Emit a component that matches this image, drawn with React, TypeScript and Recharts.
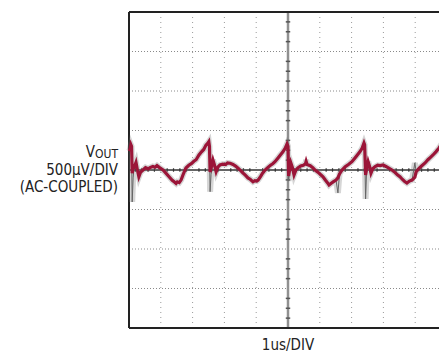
import React from "react";
import { LineChart, Line, XAxis, YAxis, ReferenceLine } from "recharts";

// time in microseconds (1us/DIV), voltage in microvolts (500uV/DIV)
const timeUs = [
  0.0, 0.03, 0.06, 0.08, 0.1, 0.13, 0.16, 0.22, 0.26, 0.31, 0.36, 0.44, 0.52, 0.6, 0.66, 0.75, 0.82, 0.88, 0.96,
  1.07, 1.16, 1.26, 1.36, 1.42, 1.48, 1.52, 1.58, 1.64, 1.7, 1.74, 1.79, 1.88, 1.96, 2.04, 2.11, 2.2, 2.28, 2.35,
  2.42, 2.48, 2.51, 2.53, 2.55, 2.58, 2.64, 2.69, 2.74, 2.8, 2.86, 2.95, 3.04, 3.1, 3.18, 3.27, 3.35, 3.43, 3.52,
  3.58, 3.65, 3.74, 3.82, 3.9, 3.96, 4.02, 4.06, 4.14, 4.2, 4.28, 4.36, 4.45, 4.52, 4.59, 4.68, 4.76, 4.84, 4.91,
  4.97, 5.0, 5.02, 5.05, 5.09, 5.14, 5.19, 5.25, 5.31, 5.4, 5.48, 5.55, 5.57, 5.6, 5.7, 5.78, 5.85, 5.95, 6.03,
  6.1, 6.18, 6.24, 6.29, 6.35, 6.42, 6.51, 6.57, 6.62, 6.7, 6.8, 6.9, 7.01, 7.1, 7.18, 7.26, 7.33, 7.39, 7.41,
  7.44, 7.47, 7.52, 7.57, 7.61, 7.67, 7.74, 7.82, 7.9, 7.99, 8.08, 8.17, 8.27, 8.36, 8.44, 8.52, 8.6, 8.67, 8.74,
  8.82, 8.9, 8.99, 9.03, 9.12, 9.2, 9.31, 9.4, 9.48, 9.56, 9.65, 9.75, 9.83, 9.87,
];

const vOut = [
  240, 260, 320, 300, -40, 20, 30, 95, 10, -85, -30, 0, 30, 15, 30, 45, 35, 55, 30,
  0, -40, -85, -130, -150, -170, -150, -160, -125, -60, -20, 25, 60, 80, 110, 130, 190, 230, 260,
  315, 340, 358, 300, -25, 20, 127, 60, -22, 40, 63, 75, 70, 90, 85, 70, 50, 22, -10,
  -35, -63, -100, -120, -150, -135, -140, -127, -80, -40, 0, 30, 60, 80, 105, 150, 190, 230, 275,
  330, 300, -76, 0, 89, 30, -63, 0, 25, 50, 60, 80, 110, 70, 55, 30, 0, -30, -60,
  -85, -130, -160, -190, -170, -150, -127, -100, -50, 0, 40, 70, 105, 150, 190, 230, 275, 342, 320,
  -63, 10, 105, 40, -38, 20, 42, 60, 55, 63, 45, 25, 0, -30, -60, -85, -120, -145, -165,
  -140, -127, -90, -22, 20, 50, 89, 130, 160, 190, 230, 279, 330, 345,
];

// raw (un-averaged) trace excursions that stick out past the red trace
const spikeTimes = [0.1, 0.13, 2.55, 2.58, 5.02, 5.57, 6.57, 7.44, 7.47, 8.99];
const spikeValues = [-405, -100, -275, -60, -140, 130, -290, -367, -40, 89];

const hGrid = [-1500, -1000, -500, 500, 1000, 1500];
const vGrid = [1, 2, 3, 4, 6, 7, 8, 9];

const data = timeUs.map((t, i) => {
  const k = spikeTimes.indexOf(t);
  return { t, red: vOut[i], gray: k >= 0 ? spikeValues[k] : vOut[i] };
});

const xMinor: number[] = [];
for (let i = 1; i < 50; i++) if (i % 5 !== 0) xMinor.push(i * 0.2);
const yMinor: number[] = [];
for (let i = -15; i <= 15; i++) if (i % 4 !== 0) yMinor.push(i * 125);

const FONT = "'Liberation Sans Narrow', 'DejaVu Sans Condensed', 'Arial Narrow', sans-serif";

export default function App() {
  return (
    <div style={{ position: "fixed", left: 0, top: 0, width: 439, height: 353, overflow: "hidden", background: "#fff" }}>
      <LineChart width={447} height={353} data={data} margin={{ top: 12, right: 0, bottom: 25, left: 129 }}>
        <XAxis type="number" dataKey="t" domain={[0, 10]} hide />
        <YAxis type="number" domain={[-2000, 2000]} hide />
        {hGrid.map((v) => (
          <ReferenceLine key={"h" + v} y={v} stroke="#8a8a8a" strokeDasharray="1 2" strokeWidth={1} />
        ))}
        {vGrid.map((t) => (
          <ReferenceLine key={"v" + t} x={t} stroke="#9a9a9a" strokeDasharray="1 4" strokeWidth={1} />
        ))}
        <ReferenceLine x={5} stroke="#909090" strokeWidth={2.5} />
        {yMinor.map((v) => (
          <ReferenceLine key={"ym" + v} segment={[{ x: 4.93, y: v }, { x: 5.07, y: v }]} stroke="#555" strokeWidth={1.5} />
        ))}
        <ReferenceLine y={0} stroke="#333" strokeWidth={1.5} />
        {xMinor.map((t) => (
          <ReferenceLine key={"xm" + t} segment={[{ x: t, y: -22 }, { x: t, y: 22 }]} stroke="#333" strokeWidth={1.2} />
        ))}
        <ReferenceLine y={2000} stroke="#222" strokeWidth={2} />
        <ReferenceLine y={-2000} stroke="#222" strokeWidth={2} />
        <ReferenceLine x={0} stroke="#222" strokeWidth={2} />
        <Line type="linear" dataKey="gray" stroke="#777" strokeWidth={6} strokeOpacity={0.3} dot={false} isAnimationActive={false} />
        <Line type="linear" dataKey="gray" stroke="#666" strokeWidth={1} dot={false} isAnimationActive={false} />
        <Line type="linear" dataKey="red" stroke="#9b1538" strokeWidth={3.2} dot={false} isAnimationActive={false} />
      </LineChart>
      <svg width={439} height={353} style={{ position: "absolute", left: 0, top: 0, pointerEvents: "none" }}>
        <g fontFamily={FONT} fontSize={15} fill="#222" textAnchor="end">
          <text x={118} y={157}>
            V<tspan fontSize={12} dy={1}>OUT</tspan>
          </text>
          <text x={118} y={175}>500µV/DIV</text>
          <text x={118} y={192}>(AC-COUPLED)</text>
        </g>
        <text x={288} y={350} fontFamily={FONT} fontSize={15} fill="#222" textAnchor="middle">1us/DIV</text>
      </svg>
    </div>
  );
}
